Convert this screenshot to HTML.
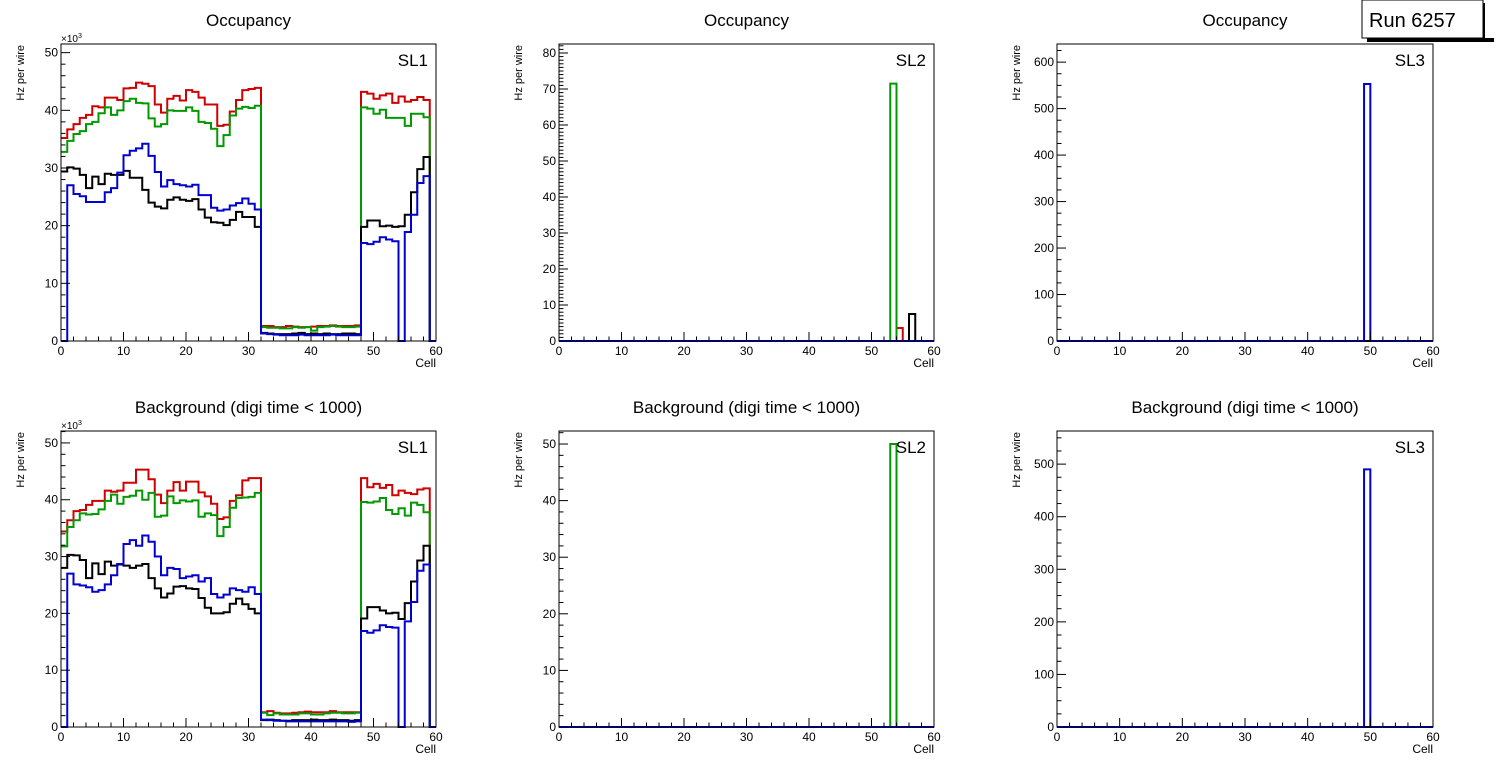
<!DOCTYPE html>
<html><head><meta charset="utf-8"><style>
body{margin:0;background:#fff;width:1496px;height:772px;overflow:hidden;font-family:"Liberation Sans",sans-serif}
svg text{font-family:"Liberation Sans",sans-serif}
</style></head><body>
<svg id="c" width="1496" height="772" xmlns="http://www.w3.org/2000/svg">
<rect x="0" y="0" width="1496" height="772" fill="#fff"/>
<g>
<rect x="1367" y="38" width="127" height="4" fill="#000"/>
<rect x="1481" y="3" width="4" height="39" fill="#000"/>
<rect x="1362" y="0" width="121" height="38" fill="#fff" stroke="#000" stroke-width="1"/>
<text x="1369" y="27" font-size="20">Run 6257</text>
</g>
</svg>
<script>
// ---- data (values per cell, 60 bins) ----
const cells = Array.from({length:60},(_,i)=>i);
const top_sl1_red = [35.2,36.7,37.6,38.7,39.2,40.7,40.5,42.2,42.2,41.8,43.8,43.9,44.8,44.6,44.2,41.0,39.6,42.0,42.5,41.7,43.5,43.2,42.2,41.0,41.0,37.3,37.5,39.8,41.8,43.5,43.7,43.9].concat([2.6,2.6,2.4,2.4,2.6,2.5,2.4,2.4,2.5,2.6,2.6,2.7,2.6,2.6,2.6,2.7],[43.2,42.9,42.0,42.6,42.9,41.3,42.4,41.5,41.8,42.3,41.8,0]);
const top_sl1_green = [32.8,34.7,35.9,36.4,37.6,38.0,39.5,40.5,39.2,40.0,41.6,42.0,41.3,41.2,38.6,37.2,37.6,40.0,39.9,39.9,40.5,39.9,38.0,37.8,36.8,33.8,35.7,39.1,40.3,40.6,40.4,40.8].concat([2.4,2.3,2.3,2.2,2.2,2.4,2.3,2.4,1.8,2.4,2.5,2.6,2.5,2.4,2.4,2.5],[40.5,40.3,39.4,40.1,38.7,38.7,38.7,37.3,39.4,39.4,38.8,0]);
const top_sl1_black = [29.4,30.1,29.9,28.8,26.5,28.5,27.2,29.0,28.8,28.8,29.5,28.3,28.3,26.2,24.0,23.3,23.0,24.5,24.9,24.5,24.3,24.6,22.8,21.4,20.6,20.5,20.1,21.0,22.4,21.5,21.5,19.8].concat([1.4,1.3,1.2,1.2,1.2,1.3,1.4,1.2,1.3,1.2,1.3,1.2,1.2,1.3,1.3,1.2],[19.8,20.9,20.9,19.9,20.0,19.8,19.9,21.9,25.8,29.8,31.9,0]);
const top_sl1_blue = [0,27.0,25.5,25.1,24.1,24.1,24.1,25.8,26.5,29.2,32.2,33.0,33.4,34.2,32.1,29.3,26.8,27.9,27.2,27.0,26.8,27.1,25.3,25.3,23.1,22.6,22.8,23.5,23.9,24.7,23.8,22.8].concat([1.3,1.2,1.1,1.0,1.0,1.0,1.1,1.0,1.0,1.0,1.0,1.1,1.0,1.0,1.0,1.0],[17.0,16.8,17.2,18.0,17.6,17.3,0,18.9,21.9,27.4,28.6,0]);
const bot_sl1_red = [34.4,36.4,38.0,38.2,39.1,39.8,39.8,41.6,41.4,41.6,43.0,43.0,45.3,45.3,43.6,40.9,39.4,41.6,43.1,41.6,43.2,43.2,41.3,40.6,39.3,36.6,36.9,39.8,40.8,43.4,43.8,43.8].concat([2.6,2.8,2.5,2.4,2.4,2.5,2.6,2.7,2.6,2.6,2.6,2.8,2.6,2.6,2.6,2.6],[43.8,42.2,42.8,42.1,42.6,40.8,41.6,41.2,41.0,41.8,42.0,0]);
const bot_sl1_green = [31.8,35.2,36.4,37.6,37.4,37.5,38.3,39.8,40.9,39.3,40.5,40.7,41.6,40.0,41.2,37.0,37.2,40.6,39.4,39.9,39.7,39.9,37.0,37.6,37.3,33.6,35.2,38.6,40.3,40.4,40.5,41.2].concat([2.5,2.1,2.4,2.2,2.2,2.2,2.4,2.4,2.2,2.2,2.4,2.5,2.5,2.4,2.4,2.5],[39.6,39.5,39.7,40.3,38.2,37.5,38.5,37.2,39.5,39.1,37.8,0]);
const bot_sl1_black = [28.0,30.3,30.2,29.4,26.2,28.8,26.9,29.1,28.4,28.6,28.4,28.0,28.4,28.7,26.2,24.4,22.8,23.5,24.7,24.8,24.4,24.3,22.7,21.0,20.0,20.0,20.2,21.7,22.6,21.6,20.8,20.0].concat([1.2,1.3,1.2,1.1,1.1,1.2,1.2,1.2,1.3,1.2,1.2,1.3,1.2,1.2,1.1,1.2],[19.1,21.1,21.1,20.5,20.0,20.1,19.0,21.8,25.6,29.3,31.9,0]);
const bot_sl1_blue = [0,27.0,25.1,24.9,24.6,23.8,24.1,25.1,26.7,28.7,32.2,32.9,31.9,33.7,32.6,30.0,26.7,28.0,27.8,26.2,26.5,26.7,25.6,26.2,23.4,22.8,23.3,24.4,24.1,23.8,24.6,23.4].concat([1.3,1.2,1.1,1.1,1.0,1.0,1.0,1.0,1.0,1.0,1.0,1.0,1.0,1.0,0.9,1.0],[16.9,16.6,17.0,17.9,17.6,17.5,0,18.6,22.0,27.5,28.6,0]);
const zeros = Array(60).fill(0);
const top_sl2_green = zeros.map((v,i)=>i===53?71.5:0);
const top_sl2_red = zeros.map((v,i)=>i===54?3.6:0);
const top_sl2_black = zeros.map((v,i)=>i===56?7.5:0);
const top_sl3_blue = zeros.map((v,i)=>i===49?553:0);
const bot_sl2_green = zeros.map((v,i)=>i===53?50:0);
const bot_sl3_blue = zeros.map((v,i)=>i===49?490:0);
const xTicks = [0,10,20,30,40,50,60];

const panels = [
 {name:'top-sl1',title:'Occupancy',sl:'SL1',x0:61,x1:436,y0:44,y1:341,ymax:51.5,major:10,nminor:5,exp:true,series:[['red',top_sl1_red],['green',top_sl1_green],['black',top_sl1_black],['blue',top_sl1_blue]]},
 {name:'top-sl2',title:'Occupancy',sl:'SL2',x0:559,x1:934,y0:44,y1:341,ymax:82.5,major:10,nminor:10,series:[['red',top_sl2_red],['green',top_sl2_green],['black',top_sl2_black],['blue',zeros]]},
 {name:'top-sl3',title:'Occupancy',sl:'SL3',x0:1057,x1:1433,y0:44,y1:341,ymax:639,major:100,nminor:4,series:[['red',zeros],['green',zeros],['black',zeros],['blue',top_sl3_blue]]},
 {name:'bottom-sl1',title:'Background (digi time < 1000)',sl:'SL1',x0:61,x1:436,y0:431,y1:727,ymax:52.1,major:10,nminor:5,exp:true,series:[['red',bot_sl1_red],['green',bot_sl1_green],['black',bot_sl1_black],['blue',bot_sl1_blue]]},
 {name:'bottom-sl2',title:'Background (digi time < 1000)',sl:'SL2',x0:559,x1:934,y0:431,y1:727,ymax:52.3,major:10,nminor:5,series:[['red',zeros],['green',bot_sl2_green],['black',zeros],['blue',zeros]]},
 {name:'bottom-sl3',title:'Background (digi time < 1000)',sl:'SL3',x0:1057,x1:1433,y0:431,y1:727,ymax:563,major:100,nminor:4,series:[['red',zeros],['green',zeros],['black',zeros],['blue',bot_sl3_blue]]}
];
const colors={red:'#d00000',green:'#009a00',black:'#000',blue:'#0000d0'};
const svg=document.getElementById('c');
const NS='http://www.w3.org/2000/svg';
function mk(tag,attrs,parent){const e=document.createElementNS(NS,tag);for(const k in attrs)e.setAttribute(k,attrs[k]);parent.appendChild(e);return e;}
panels.forEach(p=>{
 const g=mk('g',{},svg);
 
 
 const xs=v=>p.x0+(v/60)*(p.x1-p.x0);
 const ys=v=>p.y1-(v/p.ymax)*(p.y1-p.y0);
 const cx=(p.x0+p.x1)/2;
 const t=mk('text',{x:cx,y:p.y0-18,'font-size':17,'text-anchor':'middle'},g);
 t.textContent=p.title;
 
 
 p.series.forEach(([c,vals])=>{
  let d='M'+xs(0)+','+ys(vals[0]);
  for(let i=0;i<60;i++){d+=' L'+xs(i)+','+ys(vals[i])+' L'+xs(i+1)+','+ys(vals[i]);}
  const path=mk('path',{d:d,fill:'none',stroke:colors[c],'stroke-width':2},g);
  
  
 });
 const fr=mk('rect',{x:p.x0,y:p.y0,width:p.x1-p.x0,height:p.y1-p.y0,fill:'none',stroke:'#000','stroke-width':1},g);
 
 
 for(let v=0;v<=60;v+=2){const L=v%10===0?9:4.5;mk('line',{x1:xs(v),x2:xs(v),y1:p.y1,y2:p.y1-L,stroke:'#000','stroke-width':1},g);}
 xTicks.forEach(v=>{const tl=mk('text',{x:xs(v),y:p.y1+14,'font-size':12,'text-anchor':'middle'},g);tl.textContent=v;
  
  });
 const xl=mk('text',{x:p.x1,y:p.y1+26,'font-size':12,'text-anchor':'end'},g);xl.textContent='Cell';
 
 
 const minor=p.major/p.nminor;
 for(let k=0;k*minor<=p.ymax+1e-9;k++){const v=k*minor;const L=(k%p.nminor===0)?9:4.5;mk('line',{x1:p.x0,x2:p.x0+L,y1:ys(v),y2:ys(v),stroke:'#000','stroke-width':1},g);}
 for(let v=0;v<=p.ymax;v+=p.major){const tl=mk('text',{x:p.x0-3,y:ys(v)+4,'font-size':12,'text-anchor':'end'},g);tl.textContent=Math.round(v);
  
  }
 if(p.exp){const e=mk('text',{x:p.x0,y:p.y0-2,'font-size':10},g);e.innerHTML='×10<tspan dy="-4" font-size="7">3</tspan>';
  
  }
 const yl=mk('text',{transform:'translate('+(p.x0-37)+','+(p.y0+1)+') rotate(-90)','font-size':11,'text-anchor':'end'},g);yl.textContent='Hz per wire';
 
 
 const sl=mk('text',{x:p.x1-8,y:p.y0+22,'font-size':17,'text-anchor':'end'},g);sl.textContent=p.sl;
 
 
});
</script>
</body></html>
